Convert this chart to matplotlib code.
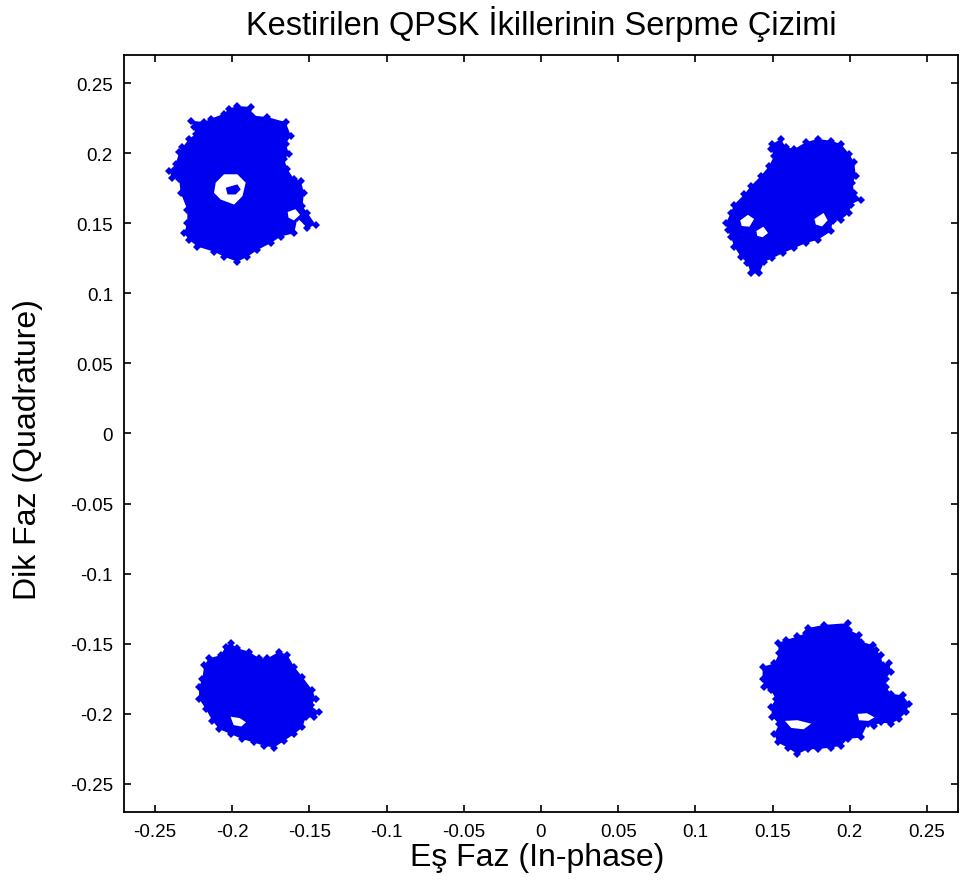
import matplotlib
matplotlib.use('Agg')
import matplotlib.pyplot as plt

plt.rcParams['font.family'] = ['Liberation Sans', 'DejaVu Sans']

# outlines of the four received-symbol clouds (in-phase, quadrature)
c1_x = [-0.2019, -0.1966, -0.1880, -0.1869, -0.1771, -0.1653, -0.1620, -0.1653, -0.1631, -0.1663,
        -0.1642, -0.1598, -0.1556, -0.1534, -0.1545, -0.1512, -0.1459, -0.1512, -0.1577, -0.1598,
        -0.1685, -0.1750, -0.1836, -0.1901, -0.1966, -0.2052, -0.2117, -0.2225, -0.2278, -0.2311,
        -0.2290, -0.2290, -0.2333, -0.2343, -0.2387, -0.2408, -0.2365, -0.2343, -0.2322, -0.2278,
        -0.2236, -0.2246, -0.2268, -0.2181, -0.2139, -0.2052]
c1_y = [0.2317, 0.2336, 0.2329, 0.2268, 0.2257, 0.2221, 0.2124, 0.2065, 0.1993, 0.1957,
        0.1885, 0.1813, 0.1801, 0.1717, 0.1621, 0.1573, 0.1489, 0.1465, 0.1537, 0.1429,
        0.1405, 0.1358, 0.1309, 0.1261, 0.1225, 0.1261, 0.1297, 0.1333, 0.1381, 0.1429,
        0.1501, 0.1597, 0.1717, 0.1813, 0.1825, 0.1873, 0.1921, 0.2005, 0.2041, 0.2101,
        0.2137, 0.2185, 0.2232, 0.2221, 0.2245, 0.2281]

c2_x = [0.1499, 0.1553, 0.1585, 0.1640, 0.1715, 0.1791, 0.1877, 0.1942, 0.1996, 0.2028,
        0.2039, 0.2017, 0.2028, 0.2071, 0.2006, 0.1996, 0.1942, 0.1888, 0.1877, 0.1791,
        0.1715, 0.1640, 0.1564, 0.1499, 0.1446, 0.1413, 0.1359, 0.1337, 0.1294, 0.1251,
        0.1229, 0.1208, 0.1197, 0.1229, 0.1251, 0.1316, 0.1359, 0.1424, 0.1478, 0.1510,
        0.1488]
c2_y = [0.2065, 0.2101, 0.2041, 0.2029, 0.2077, 0.2101, 0.2088, 0.2065, 0.1993, 0.1933,
        0.1837, 0.1789, 0.1717, 0.1669, 0.1633, 0.1573, 0.1525, 0.1513, 0.1441, 0.1381,
        0.1358, 0.1322, 0.1286, 0.1250, 0.1225, 0.1142, 0.1142, 0.1214, 0.1261, 0.1333,
        0.1405, 0.1453, 0.1501, 0.1573, 0.1633, 0.1705, 0.1765, 0.1837, 0.1909, 0.1981,
        0.2029]

c3_x = [-0.2009, -0.1966, -0.1890, -0.1825, -0.1771, -0.1696, -0.1642, -0.1598, -0.1545, -0.1480,
        -0.1459, -0.1491, -0.1437, -0.1469, -0.1523, -0.1545, -0.1598, -0.1663, -0.1728, -0.1793,
        -0.1858, -0.1933, -0.2009, -0.2084, -0.2128, -0.2171, -0.2214, -0.2214, -0.2192, -0.2181,
        -0.2149, -0.2074, -0.2041]
c3_y = [-0.1496, -0.1532, -0.1556, -0.1604, -0.1604, -0.1556, -0.1581, -0.1664, -0.1736, -0.1832,
        -0.1892, -0.1940, -0.1988, -0.2024, -0.2024, -0.2096, -0.2144, -0.2192, -0.2240, -0.2228,
        -0.2204, -0.2180, -0.2144, -0.2108, -0.2048, -0.1964, -0.1892, -0.1808, -0.1748, -0.1653,
        -0.1604, -0.1581, -0.1520]

c4_x = [0.1726, 0.1834, 0.1985, 0.1996, 0.2061, 0.2071, 0.2147, 0.2168, 0.2201, 0.2212,
        0.2255, 0.2266, 0.2233, 0.2233, 0.2266, 0.2341, 0.2385, 0.2363, 0.2320, 0.2266,
        0.2201, 0.2158, 0.2115, 0.2071, 0.1985, 0.1942, 0.1877, 0.1791, 0.1726, 0.1661,
        0.1597, 0.1532, 0.1510, 0.1543, 0.1499, 0.1488, 0.1521, 0.1488, 0.1446, 0.1435,
        0.1435, 0.1510, 0.1543, 0.1532, 0.1585, 0.1661, 0.1715]
c4_y = [-0.1388, -0.1365, -0.1353, -0.1401, -0.1437, -0.1484, -0.1509, -0.1545, -0.1581, -0.1653,
        -0.1640, -0.1700, -0.1748, -0.1808, -0.1856, -0.1868, -0.1928, -0.1988, -0.2036, -0.2072,
        -0.2060, -0.2084, -0.2072, -0.2168, -0.2180, -0.2228, -0.2240, -0.2252, -0.2252, -0.2288,
        -0.2240, -0.2204, -0.2144, -0.2072, -0.2024, -0.1952, -0.1892, -0.1832, -0.1808, -0.1748,
        -0.1664, -0.1640, -0.1568, -0.1496, -0.1473, -0.1448, -0.1424]

# empty gaps inside the clouds
gap1_x = [-0.2106, -0.2052, -0.1966, -0.1912, -0.1933, -0.1987, -0.2074, -0.2117]
gap1_y = [0.1789, 0.1849, 0.1849, 0.1789, 0.1693, 0.1633, 0.1669, 0.1717]
blob1_x = [-0.2041, -0.1966, -0.1944, -0.1977, -0.2030]
blob1_y = [0.1753, 0.1777, 0.1741, 0.1705, 0.1705]
gap1b_x = [-0.1640, -0.1590, -0.1560, -0.1600, -0.1635]
gap1b_y = [0.1580, 0.1600, 0.1560, 0.1520, 0.1540]
gap2_x = [0.1770, 0.1830, 0.1856, 0.1820, 0.1780]
gap2_y = [0.1530, 0.1573, 0.1520, 0.1477, 0.1490]
gap2b_x = [0.1290, 0.1340, 0.1380, 0.1350, 0.1300]
gap2b_y = [0.1520, 0.1560, 0.1530, 0.1475, 0.1480]
gap2c_x = [0.1395, 0.1440, 0.1470, 0.1435, 0.1400]
gap2c_y = [0.1445, 0.1475, 0.1430, 0.1400, 0.1410]
gap3_x = [-0.2010, -0.1950, -0.1910, -0.1940, -0.1990]
gap3_y = [-0.2020, -0.2030, -0.2060, -0.2090, -0.2080]
gap4_x = [0.1580, 0.1660, 0.1750, 0.1700, 0.1620]
gap4_y = [-0.2050, -0.2045, -0.2070, -0.2110, -0.2100]
gap4b_x = [0.2050, 0.2110, 0.2160, 0.2120, 0.2060]
gap4b_y = [-0.2000, -0.1995, -0.2025, -0.2050, -0.2045]

ticks = [-0.25, -0.2, -0.15, -0.1, -0.05, 0, 0.05, 0.1, 0.15, 0.2, 0.25]
tick_labels = ['-0.25', '-0.2', '-0.15', '-0.1', '-0.05', '0', '0.05', '0.1', '0.15', '0.2', '0.25']

blue = '#0000f0'

fig = plt.figure(figsize=(9.65, 8.87), dpi=100)
ax = fig.add_axes([0.1285, 0.0834, 0.8642, 0.8535])

clouds = [(c1_x, c1_y), (c2_x, c2_y), (c3_x, c3_y), (c4_x, c4_y)]
for cx, cy in clouds:
    ax.fill(cx, cy, color=blue, lw=0, zorder=2)
    ax.plot(cx, cy, ls='none', marker='D', ms=4, mew=0, mfc=blue, zorder=3)

gaps = [(gap1_x, gap1_y), (gap1b_x, gap1b_y), (gap2_x, gap2_y), (gap2b_x, gap2b_y),
        (gap2c_x, gap2c_y), (gap3_x, gap3_y), (gap4_x, gap4_y), (gap4b_x, gap4b_y)]
for gx, gy in gaps:
    ax.fill(gx, gy, color='white', lw=0, zorder=4)
ax.fill(blob1_x, blob1_y, color=blue, lw=0, zorder=5)

ax.set_xlim(-0.27, 0.27)
ax.set_ylim(-0.27, 0.27)
ax.set_xticks(ticks)
ax.set_xticklabels(tick_labels)
ax.set_yticks(ticks)
ax.set_yticklabels(tick_labels)
ax.tick_params(direction='in', top=True, right=True, length=5, width=1.2,
               labelsize=13.5, pad=8)
for s in ax.spines.values():
    s.set_linewidth(1.3)

fig.text(541 / 965, 1 - 24 / 887, 'Kestirilen QPSK İkillerinin Serpme Çizimi',
         ha='center', va='center', fontsize=23.5)
fig.text(537 / 965, 1 - 858 / 887, 'Eş Faz (In-phase)',
         ha='center', va='center', fontsize=23)
fig.text(28 / 965, 1 - 450 / 887, 'Dik Faz (Quadrature)',
         ha='center', va='center', rotation=90, fontsize=23)

fig.savefig('out.png', dpi=100)
